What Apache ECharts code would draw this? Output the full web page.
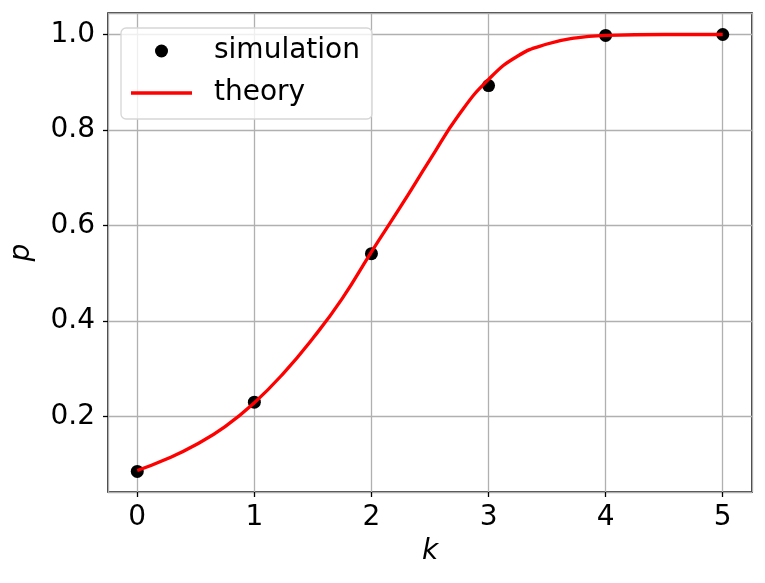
<!DOCTYPE html>
<html>
<head>
<meta charset="utf-8">
<script src="https://cdn.jsdelivr.net/npm/echarts@6/dist/echarts.min.js"></script>
<style>
  html, body { margin: 0; padding: 0; background: #fff; }
  #chart { width: 765px; height: 583px; }
</style>
</head>
<body>
<div id="chart"></div>
<script>
  // simulated points
  const simK = [0, 1, 2, 3, 4, 5];
  const simP = [0.085, 0.230, 0.541, 0.893, 0.998, 1.0];

  // theory curve
  const theoryK = [0, 0.25, 0.5, 0.75, 1, 1.25, 1.5, 1.75, 2, 2.25, 2.5, 2.75, 3, 3.25, 3.5, 3.75, 4, 4.5, 5];
  const theoryP = [0.087, 0.111, 0.141, 0.179, 0.229, 0.291, 0.364, 0.447, 0.545, 0.640, 0.738, 0.833, 0.906, 0.955, 0.980, 0.993, 0.998, 1.0, 1.0];

  const FONT = 'DejaVu Sans';
  const FS = 28;

  const chart = echarts.init(document.getElementById('chart'));
  chart.setOption({
    animation: false,
    backgroundColor: '#fff',
    textStyle: { fontFamily: FONT },
    grid: {
      left: 107, right: 13, top: 13, bottom: 91,
      show: true, borderColor: '#000', borderWidth: 1.5, backgroundColor: 'transparent'
    },
    legend: {
      left: 121, top: 28,
      orient: 'vertical',
      itemWidth: 61, itemHeight: 13,
      itemGap: 12,
      symbolKeepAspect: true,
      padding: [8, 12, 11, 10],
      backgroundColor: 'rgba(255,255,255,0.8)',
      borderColor: '#d6d6d6', borderWidth: 1.3, borderRadius: 5,
      textStyle: { fontFamily: FONT, fontSize: FS, color: '#000', lineHeight: 30, padding: [0, 0, 0, 17] },
      data: [
        { name: 'simulation', icon: 'circle', itemStyle: { color: '#000', opacity: 1 } },
        { name: 'theory', icon: 'path://M0,0H61V3.3H0Z', itemStyle: { color: '#ff0000' } }
      ]
    },
    xAxis: {
      type: 'value', min: -0.25, max: 5.25,
      name: 'k', nameLocation: 'middle', nameGap: 46,
      nameTextStyle: { fontFamily: FONT, fontSize: FS, fontStyle: 'italic', color: '#000' },
      axisLine: { show: false, onZero: false },
      axisTick: { show: true, length: 5, lineStyle: { color: '#000', width: 1.3 } },
      axisLabel: { fontFamily: FONT, fontSize: FS, color: '#000', margin: 12, showMinLabel: false, showMaxLabel: false },
      splitLine: { show: true, lineStyle: { color: '#b0b0b0', width: 1.3 } }
    },
    yAxis: {
      type: 'value', min: 0.042, max: 1.045,
      name: 'p', nameLocation: 'middle', nameGap: 72,
      nameTextStyle: { fontFamily: FONT, fontSize: FS, fontStyle: 'italic', color: '#000' },
      axisLine: { show: false, onZero: false },
      axisTick: { show: true, length: 5, lineStyle: { color: '#000', width: 1.3 } },
      axisLabel: {
        fontFamily: FONT, fontSize: FS, color: '#000', margin: 13,
        showMinLabel: false, showMaxLabel: false,
        formatter: v => v.toFixed(1)
      },
      splitLine: { show: true, lineStyle: { color: '#b0b0b0', width: 1.3 } }
    },
    series: [
      {
        name: 'simulation',
        type: 'scatter',
        symbolSize: 13,
        itemStyle: { color: '#000', opacity: 1 },
        data: simK.map((k, i) => [k, simP[i]]),
        z: 3
      },
      {
        name: 'theory',
        type: 'line',
        smooth: 0.5,
        symbol: 'none',
        lineStyle: { color: '#ff0000', width: 3.3 },
        itemStyle: { color: '#ff0000' },
        data: theoryK.map((k, i) => [k, theoryP[i]]),
        z: 4
      }
    ]
  });
</script>
</body>
</html>
